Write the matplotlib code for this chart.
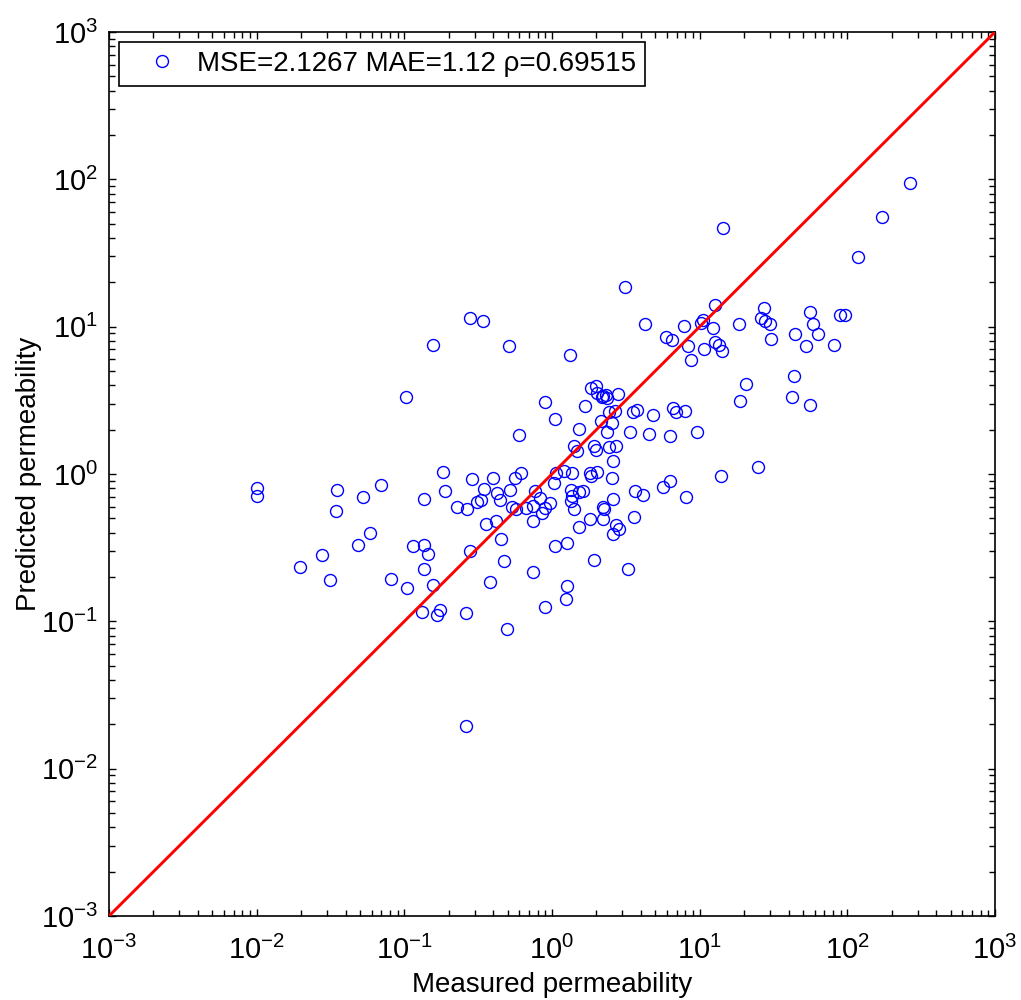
import numpy as np
import matplotlib
matplotlib.use("Agg")
import matplotlib.pyplot as plt
from matplotlib.ticker import LogLocator, FuncFormatter, NullFormatter

# Measured vs. predicted permeability, stored as base-10 exponents
measured_exp = [
    -2.00, -2.00, -1.707, -1.558, -1.503, -1.463, -1.456, -1.314, -1.280, -1.232,
    -1.158, -1.090, -0.989, -0.982, -0.941, -0.867, -0.840, -0.867, -0.867, -0.806,
    -0.806, -0.880, -0.758, -0.779, -0.738, -0.725, -0.643, -0.576, -0.582, -0.582,
    -0.555, -0.555, -0.542, -0.508, -0.481, -0.467, -0.460, -0.447, -0.400, -0.420,
    -0.379, -0.372, -0.352, -0.345, -0.325, -0.305, -0.291, -0.284, -0.271, -0.251,
    -0.244, -0.223, -0.210, -0.176, -0.129, -0.129, -0.129, -0.115, -0.081, -0.068,
    -0.047, -0.047, -0.047, -0.014, 0.014, 0.020, 0.020, 0.027, 0.081, 0.095,
    0.102, 0.102, 0.122, 0.129, 0.135, 0.129, 0.135, 0.149, 0.149, 0.169,
    0.183, 0.183, 0.183, 0.210, 0.223, 0.257, 0.264, 0.257, 0.264, 0.284,
    0.284, 0.298, 0.298, 0.305, 0.305, 0.332, 0.339, 0.345, 0.345, 0.352,
    0.345, 0.366, 0.372, 0.372, 0.386, 0.386, 0.406, 0.406, 0.413, 0.413,
    0.413, 0.427, 0.433, 0.433, 0.447, 0.454, 0.494, 0.515, 0.528, 0.549,
    0.555, 0.562, 0.576, 0.616, 0.630, 0.657, 0.684, 0.752, 0.772, 0.799,
    0.799, 0.813, 0.819, 0.840, 0.894, 0.901, 0.907, 0.921, 0.941, 0.982,
    1.009, 1.023, 1.090, 1.104, 1.104, 1.131, 1.144, 1.151, 1.029, 1.158,
    1.266, 1.273, 1.314, 1.395, 1.415, 1.436, 1.442, 1.476, 1.483, 1.625,
    1.639, 1.646, 1.720, 1.747, 1.747, 1.767, 1.801, 1.910, 1.950, 1.984,
    2.072, 2.235, 2.424,
]
predicted_exp = [
    -0.095, -0.150, -0.633, -0.551, -0.721, -0.252, -0.109, -0.483, -0.156, -0.401,
    -0.075, -0.714, 0.524, -0.776, -0.490, -0.483, -0.544, -0.646, -0.170, 0.878,
    -0.755, -0.939, -0.925, -0.959, 0.014, -0.116, -0.224, -0.238, -0.946, -1.708,
    1.061, -0.524, -0.034, -0.190, -0.177, 1.041, -0.102, -0.340, -0.027, -0.735,
    -0.320, -0.129, -0.177, -0.442, -0.592, -1.054, 0.871, -0.109, -0.224, -0.027,
    -0.238, 0.265, 0.007, -0.231, -0.218, -0.320, -0.667, -0.116, -0.163, -0.265,
    -0.231, 0.490, -0.905, -0.197, -0.061, 0.374, -0.490, 0.007, 0.020, -0.850,
    -0.469, -0.762, 0.810, -0.109, -0.150, -0.184, 0.007, 0.190, -0.238, 0.156,
    0.306, -0.122, -0.361, -0.116, 0.463, 0.007, -0.014, -0.306, 0.585, 0.190,
    -0.585, 0.599, 0.163, 0.551, 0.014, 0.361, 0.524, 0.531, -0.224, -0.238,
    -0.306, 0.537, 0.517, 0.286, 0.422, 0.184, 0.347, -0.027, 0.088, -0.170,
    -0.408, 0.429, 0.190, -0.347, 0.544, -0.374, 1.272, -0.646, 0.286, 0.422,
    -0.293, -0.116, 0.435, -0.143, 1.020, 0.272, 0.401, -0.088, 0.932, -0.048,
    0.259, 0.912, 0.449, 0.422, 1.007, 0.429, -0.156, 0.871, 0.776, 0.286,
    1.027, 1.048, 0.993, 1.150, 0.898, 0.878, -0.014, 0.837, 0.850, 1.673,
    1.020, 0.497, 0.612, 0.048, 1.061, 1.129, 1.041, 1.020, 0.918, 0.524,
    0.667, 0.952, 0.871, 1.102, 0.469, 1.020, 0.952, 0.878, 1.082, 1.082,
    1.476, 1.741, 1.973,
]
axis_limits = [1e-3, 1e3]
legend_label = "MSE=2.1267 MAE=1.12 \u03c1=0.69515"
x_label = "Measured permeability"
y_label = "Predicted permeability"

measured = 10.0 ** np.array(measured_exp)
predicted = 10.0 ** np.array(predicted_exp)

plt.rcParams["font.family"] = ["Liberation Sans", "DejaVu Sans"]
plt.rcParams["mathtext.fontset"] = "custom"
plt.rcParams["mathtext.rm"] = "Liberation Sans"
plt.rcParams["mathtext.it"] = "Liberation Sans:italic"
plt.rcParams["mathtext.bf"] = "Liberation Sans:bold"

fig = plt.figure(figsize=(10.21, 10.0), dpi=100)
ax = fig.add_axes([109 / 1021, 84 / 1000, 886 / 1021, 884 / 1000])

ax.plot(measured, predicted, linestyle="none", marker="o", markersize=8.6,
        markerfacecolor="none", markeredgecolor=(0, 0, 1), markeredgewidth=1.0,
        label=legend_label, zorder=2)
ax.plot(axis_limits, axis_limits, color=(1, 0, 0), linewidth=2.1, zorder=3)

ax.set_xscale("log")
ax.set_yscale("log")
ax.set_xlim(axis_limits)
ax.set_ylim(axis_limits)

def pow10(v, pos):
    e = int(round(np.log10(v)))
    return r"$\mathregular{10^{%d}}$" % e

for axis in (ax.xaxis, ax.yaxis):
    axis.set_major_locator(LogLocator(base=10, numticks=20))
    axis.set_minor_locator(LogLocator(base=10, subs=np.arange(2, 10), numticks=20))
    axis.set_major_formatter(FuncFormatter(pow10))
    axis.set_minor_formatter(NullFormatter())

ax.tick_params(which="both", direction="in", top=True, right=True,
               width=1.0, labelsize=21, colors="black")
ax.tick_params(which="major", length=5)
ax.tick_params(which="minor", length=4)
ax.tick_params(axis="x", pad=14)
ax.tick_params(axis="y", pad=8)
for s in ax.spines.values():
    s.set_linewidth(1.2)

ax.set_xlabel(x_label, fontsize=20, labelpad=5)
ax.set_ylabel(y_label, fontsize=20, labelpad=-1)

leg = ax.legend(loc="upper left", bbox_to_anchor=(0.0113, 0.9887),
                borderaxespad=0, fontsize=20, numpoints=1, handlelength=2.47,
                handletextpad=0.0, borderpad=0.33, fancybox=False,
                framealpha=1, edgecolor="black")
leg.get_frame().set_linewidth(1.2)

fig.savefig("out.png", dpi=100)
